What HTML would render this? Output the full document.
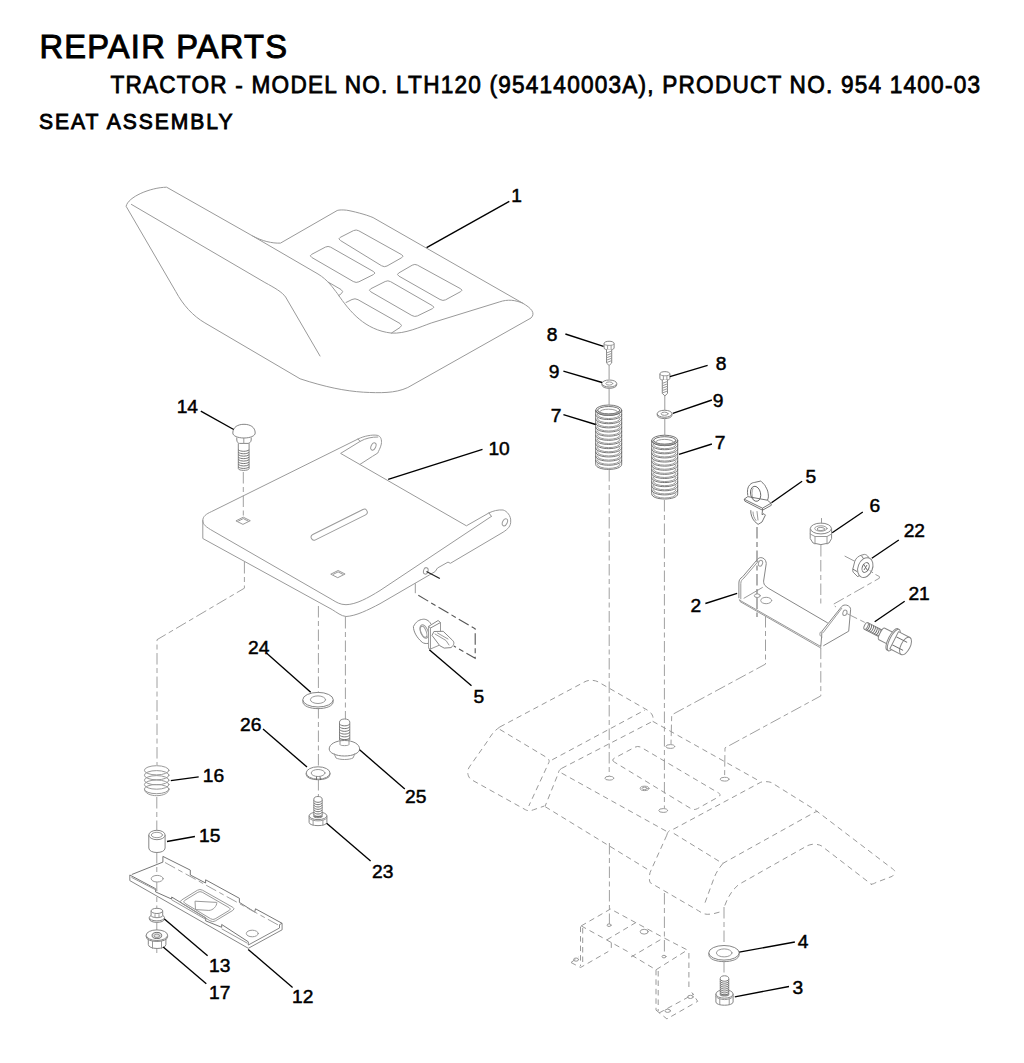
<!DOCTYPE html>
<html><head><meta charset="utf-8"><style>
html,body{margin:0;padding:0;background:#fff;}
body{width:1024px;height:1063px;overflow:hidden;position:relative;}
svg{position:absolute;left:0;top:0;}
.t{font-family:"Liberation Sans",sans-serif;font-weight:normal;fill:#000;}
.n{font-family:"Liberation Sans",sans-serif;font-weight:normal;fill:#000;stroke:#000;stroke-width:0.5;}
.l{fill:none;stroke:#9a9a9a;stroke-width:1;stroke-linejoin:round;stroke-linecap:round;}
.w{fill:#fff;stroke:#878787;stroke-width:1;stroke-linejoin:round;}
.m{fill:none;stroke:#666;stroke-width:0.9;stroke-linejoin:round;}
.d{fill:none;stroke:#9a9a9a;stroke-width:1;stroke-dasharray:5.5 4;}
.c{fill:none;stroke:#a0a0a0;stroke-width:1;stroke-dasharray:11.5 3.5 5 3.5;}
.k{fill:none;stroke:#000;stroke-width:1.35;}
</style></head><body>
<svg width="1024" height="1063" viewBox="0 0 1024 1063">
<text class="t" transform="scale(0.96 1)" x="41.15" y="58" font-size="34" stroke="#000" stroke-width="1.0" textLength="257.81" lengthAdjust="spacing">REPAIR PARTS</text>
<text class="t" transform="scale(0.92 1)" x="120.11" y="93.2" font-size="24.6" stroke="#000" stroke-width="0.8" textLength="945.11" lengthAdjust="spacing">TRACTOR - MODEL NO. LTH120 (954140003A), PRODUCT NO. 954 1400-03</text>
<text class="t" transform="scale(0.95 1)" x="41.05" y="128.6" font-size="22.2" stroke="#000" stroke-width="0.9" textLength="203.68" lengthAdjust="spacing">SEAT ASSEMBLY</text>
<path class="l" d="M126.2,205.9 C128,197 150,187.5 166.6,187.2 L252.5,235.9 C262,241 272,243.5 280.5,243.1 L337.2,210.5 C339,209.8 343,209.8 346.6,210.2 C352,211 366,214.5 373.1,217.6 L522.6,303.1 C531,308 536,313 531,318 L407.8,387.5 C395,393.5 380,393 363.3,392.2 C345,391 325,387 300.1,378.8 L204.9,322.9 C193,316 183,305 175.9,291.8 Z" />
<path class="l" d="M131.4,204.4 L264.9,282.5 C275,288 282,292 285.6,297 L320,356" />
<path class="l" d="M252.5,235.9 L318,274 C328,280 333,288 337.5,293.7 C350,312 365,330 391.4,333.1 C405,334 420,327 431.2,323 L499.2,302 C508,299 515,300 522.6,303.1" />
<path class="l" d="M340.1,240.3 Q337.5,238.7 340.2,237.4 L353.5,230.6 Q356.2,229.3 358.8,230.8 L401.7,254.7 Q404.3,256.2 401.7,257.7 L387.0,266.0 Q384.4,267.5 381.8,265.9 Z" />
<path class="l" d="M311.5,257.3 Q308.9,255.8 311.6,254.4 L325.4,247.1 Q328.1,245.7 330.7,247.2 L373.6,271.6 Q376.2,273.1 373.5,274.5 L358.9,281.8 Q356.2,283.2 353.6,281.7 Z" />
<path class="l" d="M398.7,276.0 Q396.1,274.5 398.7,273.0 L412.2,265.2 Q414.8,263.7 417.4,265.1 L460.7,288.8 Q463.3,290.2 460.7,291.6 L445.6,299.8 Q443.0,301.2 440.4,299.7 Z" />
<path class="l" d="M370.6,291.7 Q368.0,290.2 370.7,288.8 L385.2,281.5 Q387.9,280.1 390.5,281.6 L432.6,305.8 Q435.2,307.3 432.5,308.6 L417.5,315.9 Q414.8,317.2 412.2,315.7 Z" />
<path class="l" d="M346,302.5 L352,299.5 Q355,298 358,299.7 L400,323.5 Q403,325.5 400,327.5 L391.4,333.1" />
<path class="l" d="M328,282 L341,289.5 Q344,291.5 341.5,293.5 L338.7,295.6" />
<line class="k" x1="426.6" y1="247.6" x2="509.3" y2="201.4"/>
<text class="n" x="511.2" y="202.4" font-size="19.2">1</text>
<path class="l" d="M491.4,516.4 L380,590.5 C368,598 356,604.5 346,604.7 C340,604.7 336,602 332.2,599.7 L213,531 C206,527 202.8,524.5 202.8,520.5 C202.8,516.5 206,514 211.7,511.5 L358,439 C364,436 372,434.5 377.2,435.3 C381,436 382,440 381.3,444.1 C380.5,448 378.5,451 377.8,453 L372.4,456.4 L360.1,464.3" />
<path class="l" d="M202.8,520.5 L202.8,538.5 L332.2,609.6 C337,612.5 341,616 346,616.5 C356,616 368,610 380,603.7 L429.3,575 L435.2,571.5 L437.5,568 L448,562.1 L450.4,563.3 L503.1,532.2 C508,529 511,526 510.7,521 C511,516 507,511 503.1,510 C498,509.5 493,511 489,512.9 L466.4,525.8 L340.6,453.4 L360.1,441.4 C366,438 372,437 377.8,437" />
<line class="l" x1="358" y1="439" x2="360.1" y2="441.4"/>
<line class="l" x1="489" y1="512.9" x2="491.4" y2="516.4"/>
<rect class="l" x="-31" y="-3" width="62" height="6" rx="3" transform="translate(339.2,524.7) rotate(-26.5)"/>
<line class="k" x1="388.2" y1="479.4" x2="482.5" y2="449.4"/>
<text class="n" x="488.4" y="455.1" font-size="19.2">10</text>
<path class="l" d="M236.3,520.7 L243.3,517.2 L250.3,520.7 L243.3,524.2 Z M238.5,521 L243.3,518.6 L248,521" />
<path class="l" d="M331.1,574 L338.1,570.5 L345.1,574 L338.1,577.5 Z M333.3,574.3 L338.1,571.9 L342.8,574.3" />
<ellipse class="l" cx="373.4" cy="446.5" rx="2.3" ry="3.8" transform="rotate(25 373.4 446.5)"/>
<ellipse class="l" cx="504.9" cy="522.3" rx="2.3" ry="3.8" transform="rotate(25 504.9 522.3)"/>
<ellipse class="l" cx="425.8" cy="570.9" rx="2.3" ry="3.3" transform="rotate(15 425.8 570.9)"/>
<path class="w" d="M238.3,443.4 L238.3,468.5 C238.3,471 249.1,471 249.1,468.5 L249.1,443.4" />
<path class="m" d="M238.3,449.8 C240.5,451.8 246.9,451.8 249.1,449.8" />
<path class="m" d="M238.3,452.25 C240.5,454.25 246.9,454.25 249.1,452.25" />
<path class="m" d="M238.3,454.7 C240.5,456.7 246.9,456.7 249.1,454.7" />
<path class="m" d="M238.3,457.15000000000003 C240.5,459.15000000000003 246.9,459.15000000000003 249.1,457.15000000000003" />
<path class="m" d="M238.3,459.6 C240.5,461.6 246.9,461.6 249.1,459.6" />
<path class="m" d="M238.3,462.05 C240.5,464.05 246.9,464.05 249.1,462.05" />
<path class="m" d="M238.3,464.5 C240.5,466.5 246.9,466.5 249.1,464.5" />
<path class="m" d="M238.3,466.95 C240.5,468.95 246.9,468.95 249.1,466.95" />
<path class="w" d="M236.8,437.5 L236.8,440 C237,442 238,443.4 239.5,443.4 L248,443.4 C249.5,443.4 251,442 251.2,440 L251.2,437.5" />
<path class="l" d="M243.8,438 L243.8,443.4" />
<path class="w" d="M232.8,433 C232.8,427 238,424.3 244,424.3 C250,424.3 255.2,427 255.2,433 C255.2,436 250,438 244,438 C238,438 232.8,436 232.8,433 Z" />
<line class="k" x1="200.8" y1="411.1" x2="233.7" y2="429.5"/>
<text class="n" x="176.7" y="412.5" font-size="19.2">14</text>
<path class="c" d="M243.3,472 L243.3,517" />
<path class="c" d="M244.4,562 L244.4,588.2 L157,639.7 L157,765" />
<path class="c" d="M156.8,797 L156.8,830" />
<path class="c" d="M156.8,852 L156.8,876" />
<path class="c" d="M156.8,882 L156.8,909" />
<path class="c" d="M156.8,922 L156.8,953" />
<path class="c" d="M318.4,606 L318.4,692" />
<path class="c" d="M318.4,707 L318.4,766" />
<path class="c" d="M318.4,779 L318.4,796" />
<path class="c" d="M345.4,617 L345.4,719" />
<path d="M426.5,571.5 L439.8,578.5" style="fill:none;stroke:#222;stroke-width:1.3;"/>
<line class="l" x1="415.3" y1="583.7" x2="415.3" y2="592.8"/>
<path d="M418.3,595.3 L475.2,628.9 L475.2,658.2 L453.8,646" style="fill:none;stroke:#555;stroke-width:1.1;stroke-dasharray:11.5 3.5 5 3.5"/>
<path class="w" d="M431,624.2 C429,620 425,618.8 422.7,619.3 C419,619.8 416,621.5 413.4,626.6 C413.5,631 416,637 422.2,642.3 C424,643.5 426,643.8 428.6,643.3" />
<ellipse class="l" cx="424.2" cy="631.5" rx="3.7" ry="7" transform="rotate(-22 424.2 631.5)"/>
<ellipse class="l" cx="423.6" cy="631.8" rx="2.6" ry="5.8" transform="rotate(-22 423.6 631.8)"/>
<path class="w" d="M428.6,626.4 L438.1,620.5 L440.5,622.5 L430.5,628 Z" />
<path class="l" d="M428.6,626.4 L428.6,648.4 L430.5,649 L430.5,628 M440.5,622.5 L440.5,632.5 M430.5,649 L439.3,645.2" />
<path class="w" d="M433.9,631.5 L443.2,631.3 L452.5,640.3 C454.5,642 454.5,645 451,647.6 L444.2,648.1 L439.8,645.7 L432,635.4 Z" />
<path class="l" d="M435,634 L446,640.5 L449,645 M437.5,633 L448,639" />
<line class="k" x1="429.3" y1="649.7" x2="471.5" y2="685.7"/>
<text class="n" x="473.5" y="703.2" font-size="19.2">5</text>
<ellipse class="l" cx="156.7" cy="770.3" rx="12.3" ry="4.6"/>
<ellipse class="l" cx="156.7" cy="775.2" rx="12.3" ry="4.6"/>
<ellipse class="l" cx="156.7" cy="780.2" rx="12.3" ry="4.6"/>
<ellipse class="l" cx="156.7" cy="784.6" rx="12.3" ry="4.6"/>
<ellipse class="l" cx="156.7" cy="789.1" rx="12.3" ry="4.6"/>
<path class="l" d="M144.4,789.1 C144.4,798 169,798 169,789.1" />
<line class="k" x1="170.8" y1="780.6" x2="198.7" y2="776.8"/>
<text class="n" x="202.8" y="781.6" font-size="19.2">16</text>
<path class="w" d="M148.8,835 L148.8,848 C148.8,854 165.1,854 165.1,848 L165.1,835" />
<ellipse class="w" cx="156.95" cy="835" rx="8.15" ry="4.7"/>
<ellipse class="l" cx="156.95" cy="835" rx="5.6" ry="2.7"/>
<line class="k" x1="167" y1="841.5" x2="194.9" y2="836.5"/>
<text class="n" x="199.0" y="841.6" font-size="19.2">15</text>
<path class="w" d="M129.8,875 L129.8,880.6 L248.3,948.3 L282.1,929.8 L282.1,923.3 L279.5,924.6 L279.5,928 L248.3,945 L248.3,941.8" />
<path class="m" d="M129.8,875 L155.6,888.7 L155.6,891.9 L171.7,899.1 L171.7,897 L205.6,917.7 L205.6,920.8 L221.7,927.3 L221.7,924.5 L248.3,941.8" />
<path class="m" d="M131.8,874.5 L162.9,862.1 L162.9,856.4 L190.3,870.1 L190.3,875 L205.6,883 L205.6,879.8 L239.4,898.3 L239.4,902.4 L254.7,912 L255.5,908.8 L282.1,923.3" />
<path class="c" d="M165,862.5 L280,926" />
<path class="l" d="M131.8,877.5 L157,890.5 M172,900 L206,919.5 M222,929 L247,943" />
<ellipse class="l" cx="157.2" cy="878.7" rx="6" ry="3.3"/>
<ellipse class="l" cx="252.3" cy="933.5" rx="6" ry="3.3"/>
<path class="l" d="M181.6,903.2 Q179.0,901.6 181.6,900.0 L197.3,890.3 Q199.9,888.7 202.5,890.2 L232.8,907.3 Q235.4,908.8 232.8,910.4 L215.4,920.9 Q212.8,922.5 210.2,920.9 Z" />
<path class="l" d="M184.6,903.1 Q182.5,901.8 184.6,900.5 L197.9,892.3 Q200.0,891.0 202.2,892.2 L229.3,907.8 Q231.5,909.0 229.4,910.3 L215.1,918.9 Q213.0,920.2 210.9,918.9 Z" />
<path class="l" d="M195.4,901.2 L216.8,902.4 C217,906 213,910.5 208.8,910.4 L195.9,909.6 Z" />
<line class="k" x1="248.2" y1="949.4" x2="292.6" y2="987.5"/>
<text class="n" x="292.0" y="1003.0" font-size="19.2">12</text>
<path class="w" d="M149.3,917.6 L149.3,918.8 C149.3,923.6 164.5,923.6 164.5,918.8 L164.5,917.6" />
<ellipse class="w" cx="156.9" cy="917.6" rx="7.6" ry="3.3"/>
<path class="w" d="M151.1,910.9 L151.1,915.5 C151.1,918.3 162.7,918.3 162.7,915.5 L162.7,910.9" />
<ellipse class="w" cx="156.9" cy="910.9" rx="5.8" ry="2.6"/>
<path class="l" d="M155,914.6 L155,917.6 L159,917.6 L159,914.6" />
<line class="k" x1="164.4" y1="919" x2="207.6" y2="955.8"/>
<text class="n" x="209.0" y="972.0" font-size="19.2">13</text>
<path class="w" d="M148.3,936 L148.3,944.5 C148.3,949.8 165.9,949.8 165.9,944.5 L165.9,936 Z" />
<path class="l" d="M152.5,941.5 L152.5,948.3 M161.5,941.5 L161.5,948.3" />
<path class="w" d="M146.2,935.2 L146.2,936.8 C146.2,943 167.6,943 167.6,936.8 L167.6,935.2" />
<ellipse class="w" cx="156.9" cy="935.2" rx="10.7" ry="5.3"/>
<ellipse class="m" cx="156.9" cy="935.5" rx="4.8" ry="3.1" style="fill:#e4e4e4"/>
<ellipse class="l" cx="156.9" cy="935.8" rx="2.8" ry="1.7"/>
<line class="k" x1="163.2" y1="947" x2="206.3" y2="983.7"/>
<text class="n" x="209.0" y="998.7" font-size="19.2">17</text>
<path class="w" d="M302.8,699.7 L302.8,701.5 C302.8,711 333.2,711 333.2,701.5 L333.2,699.7" />
<ellipse class="w" cx="318" cy="699.7" rx="15.2" ry="7.3"/>
<ellipse class="l" cx="318" cy="699.7" rx="7.6" ry="3.8"/>
<line class="k" x1="310.7" y1="692.3" x2="266.7" y2="653.2"/>
<text class="n" x="248.0" y="654.0" font-size="19.2">24</text>
<path class="w" d="M339.5,740 L339.5,722.075 C339.5,717.955 349.8,717.955 349.8,722.075 L349.8,740 Z"/>
<path class="m" d="M339.5,724.0326923076924 C341.56,726.4326923076924 347.74,726.4326923076924 349.8,724.0326923076924" />
<path class="m" d="M339.5,726.7903846153847 C341.56,729.1903846153847 347.74,729.1903846153847 349.8,726.7903846153847" />
<path class="m" d="M339.5,729.548076923077 C341.56,731.948076923077 347.74,731.948076923077 349.8,729.548076923077" />
<path class="m" d="M339.5,732.3057692307693 C341.56,734.7057692307693 347.74,734.7057692307693 349.8,732.3057692307693" />
<path class="m" d="M339.5,735.0634615384616 C341.56,737.4634615384616 347.74,737.4634615384616 349.8,735.0634615384616" />
<path class="m" d="M339.5,737.821153846154 C341.56,740.2211538461539 347.74,740.2211538461539 349.8,737.821153846154" />
<path class="w" d="M329.2,749 C329.2,744 336,740.5 344.5,740.5 C353,740.5 359.6,744 359.6,749 C359.6,753 353,756 344.5,756 C336,756 329.2,753 329.2,749 Z" />
<path class="l" d="M340,740.6 L340,744.5 C340,746 349,746 349,744.5 L349,740.6" />
<path class="l" d="M334,753.5 L336,758 C340,760 349,760 353,758 L355,753.5" />
<line class="k" x1="359.6" y1="749.8" x2="404.8" y2="789"/>
<text class="n" x="405.0" y="803.4" font-size="19.2">25</text>
<path class="w" d="M306.2,773 L306.2,774.5 C306.2,781.5 330,781.5 330,774.5 L330,773" />
<ellipse class="w" cx="318.1" cy="773" rx="11.9" ry="6.2"/>
<ellipse class="l" cx="318.1" cy="773" rx="6.9" ry="3.5"/>
<path class="m" d="M316.5,776.4 L316.5,780 M320,776.4 L320.5,780" />
<line class="k" x1="307" y1="767" x2="263" y2="729"/>
<text class="n" x="240.0" y="731.2" font-size="19.2">26</text>
<path class="w" d="M309.1,815.8 L309.1,822.4 C309.1,826.6999999999999 326.9,826.6999999999999 326.9,822.4 L326.9,815.8 Z" />
<path class="l" d="M313.105,820.0999999999999 L313.105,825.1 M322.895,820.0999999999999 L322.895,825.1 M309.1,818.0799999999999 C311.77,821.88 324.23,821.88 326.9,818.0799999999999" />
<ellipse class="w" cx="318" cy="815.8" rx="8.9" ry="3.8"/>
<path class="w" d="M313.85,816.56 L313.85,798.9749999999999 C313.85,795.655 322.15,795.655 322.15,798.9749999999999 L322.15,816.56 Z"/>
<path class="m" d="M313.85,800.5196666666666 C315.51,802.9196666666666 320.49,802.9196666666666 322.15,800.5196666666666" />
<path class="m" d="M313.85,802.8643333333333 C315.51,805.2643333333333 320.49,805.2643333333333 322.15,802.8643333333333" />
<path class="m" d="M313.85,805.209 C315.51,807.6089999999999 320.49,807.6089999999999 322.15,805.209" />
<path class="m" d="M313.85,807.5536666666666 C315.51,809.9536666666665 320.49,809.9536666666665 322.15,807.5536666666666" />
<path class="m" d="M313.85,809.8983333333333 C315.51,812.2983333333333 320.49,812.2983333333333 322.15,809.8983333333333" />
<path class="m" d="M313.85,812.2429999999999 C315.51,814.6429999999999 320.49,814.6429999999999 322.15,812.2429999999999" />
<path class="m" d="M313.85,814.5876666666666 C315.51,816.9876666666665 320.49,816.9876666666665 322.15,814.5876666666666" />
<path class="m" d="M313.85,816.56 C313.85,818.06 322.15,818.06 322.15,816.56" />
<line class="k" x1="326.6" y1="823.2" x2="370.6" y2="861"/>
<text class="n" x="372.0" y="878.0" font-size="19.2">23</text>
<path class="w" d="M604.1,343.5 L604.1,348 C604.1,350.5 614.1,350.5 614.1,348 L614.1,343.5 C614.1,340.5 604.1,340.5 604.1,343.5 Z" />
<path class="l" d="M604.1,344 C604.1,346 614.1,346 614.1,344 M607.6,345.5 L607.6,350 M611.1,345.5 L611.1,350" />
<path class="w" d="M606.5,349.5 L606.5,363 L609.1,365.5 L611.7,363 L611.7,349.5" />
<line class="l" x1="606.5" y1="353.0" x2="611.7" y2="351.0"/>
<line class="l" x1="606.5" y1="355.4" x2="611.7" y2="353.4"/>
<line class="l" x1="606.5" y1="357.8" x2="611.7" y2="355.8"/>
<line class="l" x1="606.5" y1="360.2" x2="611.7" y2="358.2"/>
<line class="l" x1="606.5" y1="362.6" x2="611.7" y2="360.6"/>
<path class="w" d="M601.9,383.5 L601.9,384.8 C601.9,389.5 616.6999999999999,389.5 616.6999999999999,384.8 L616.6999999999999,383.5" />
<ellipse class="w" cx="609.3" cy="383.5" rx="7.4" ry="3.5"/>
<ellipse class="l" cx="609.3" cy="383.5" rx="3.5" ry="1.6"/>
<rect x="595.7" y="410.2" width="26" height="53.99999999999998" style="fill:#fff"/>
<path class="m" d="M595.7,410.2 C595.7,417.116 621.7,417.116 621.7,410.2" />
<path class="l" d="M597.3000000000001,410.2 C597.3000000000001,415.92 620.1,415.92 620.1,410.2" />
<path class="m" d="M595.7,414.3538461538461 C595.7,421.2698461538461 621.7,421.2698461538461 621.7,414.3538461538461" />
<path class="l" d="M597.3000000000001,414.3538461538461 C597.3000000000001,420.07384615384615 620.1,420.07384615384615 620.1,414.3538461538461" />
<path class="m" d="M595.7,418.5076923076923 C595.7,425.4236923076923 621.7,425.4236923076923 621.7,418.5076923076923" />
<path class="l" d="M597.3000000000001,418.5076923076923 C597.3000000000001,424.22769230769234 620.1,424.22769230769234 620.1,418.5076923076923" />
<path class="m" d="M595.7,422.66153846153844 C595.7,429.57753846153844 621.7,429.57753846153844 621.7,422.66153846153844" />
<path class="l" d="M597.3000000000001,422.66153846153844 C597.3000000000001,428.38153846153847 620.1,428.38153846153847 620.1,422.66153846153844" />
<path class="m" d="M595.7,426.8153846153846 C595.7,433.73138461538457 621.7,433.73138461538457 621.7,426.8153846153846" />
<path class="l" d="M597.3000000000001,426.8153846153846 C597.3000000000001,432.5353846153846 620.1,432.5353846153846 620.1,426.8153846153846" />
<path class="m" d="M595.7,430.96923076923076 C595.7,437.88523076923076 621.7,437.88523076923076 621.7,430.96923076923076" />
<path class="l" d="M597.3000000000001,430.96923076923076 C597.3000000000001,436.6892307692308 620.1,436.6892307692308 620.1,430.96923076923076" />
<path class="m" d="M595.7,435.1230769230769 C595.7,442.0390769230769 621.7,442.0390769230769 621.7,435.1230769230769" />
<path class="l" d="M597.3000000000001,435.1230769230769 C597.3000000000001,440.8430769230769 620.1,440.8430769230769 620.1,435.1230769230769" />
<path class="m" d="M595.7,439.276923076923 C595.7,446.192923076923 621.7,446.192923076923 621.7,439.276923076923" />
<path class="l" d="M597.3000000000001,439.276923076923 C597.3000000000001,444.99692307692305 620.1,444.99692307692305 620.1,439.276923076923" />
<path class="m" d="M595.7,443.4307692307692 C595.7,450.3467692307692 621.7,450.3467692307692 621.7,443.4307692307692" />
<path class="l" d="M597.3000000000001,443.4307692307692 C597.3000000000001,449.15076923076924 620.1,449.15076923076924 620.1,443.4307692307692" />
<path class="m" d="M595.7,447.58461538461535 C595.7,454.50061538461534 621.7,454.50061538461534 621.7,447.58461538461535" />
<path class="l" d="M597.3000000000001,447.58461538461535 C597.3000000000001,453.3046153846154 620.1,453.3046153846154 620.1,447.58461538461535" />
<path class="m" d="M595.7,451.73846153846154 C595.7,458.65446153846153 621.7,458.65446153846153 621.7,451.73846153846154" />
<path class="l" d="M597.3000000000001,451.73846153846154 C597.3000000000001,457.45846153846156 620.1,457.45846153846156 620.1,451.73846153846154" />
<path class="m" d="M595.7,455.89230769230767 C595.7,462.80830769230766 621.7,462.80830769230766 621.7,455.89230769230767" />
<path class="l" d="M597.3000000000001,455.89230769230767 C597.3000000000001,461.6123076923077 620.1,461.6123076923077 620.1,455.89230769230767" />
<path class="m" d="M595.7,460.0461538461538 C595.7,466.9621538461538 621.7,466.9621538461538 621.7,460.0461538461538" />
<path class="l" d="M597.3000000000001,460.0461538461538 C597.3000000000001,465.7661538461538 620.1,465.7661538461538 620.1,460.0461538461538" />
<path class="m" d="M595.7,464.2 C595.7,471.116 621.7,471.116 621.7,464.2" />
<path class="l" d="M597.3000000000001,464.2 C597.3000000000001,469.92 620.1,469.92 620.1,464.2" />
<ellipse class="m" cx="608.7" cy="410.2" rx="13" ry="5.2"/>
<ellipse class="m" cx="608.7" cy="410.2" rx="11" ry="3.7"/>
<ellipse class="l" cx="608.7" cy="412.0" rx="9" ry="2.8000000000000003"/>
<line class="m" x1="595.7" y1="410.2" x2="595.7" y2="464.2"/>
<line class="m" x1="621.7" y1="410.2" x2="621.7" y2="464.2"/>
<line class="k" x1="603.5" y1="346.4" x2="565.4" y2="334"/>
<text class="n" x="546.8" y="340.5" font-size="19.2">8</text>
<line class="k" x1="602.1" y1="382.5" x2="563.4" y2="371.2"/>
<text class="n" x="548.8" y="378.0" font-size="19.2">9</text>
<line class="k" x1="595.7" y1="424.5" x2="563.4" y2="414.7"/>
<text class="n" x="550.7" y="421.6" font-size="19.2">7</text>
<path class="l" d="M609.1,366 L609.1,379" />
<path class="l" d="M609.1,388 L609.1,405" />
<path class="c" d="M609.2,470 L609.2,776" />
<path class="w" d="M659.9,373.9 L659.9,378.4 C659.9,380.9 669.9,380.9 669.9,378.4 L669.9,373.9 C669.9,370.9 659.9,370.9 659.9,373.9 Z" />
<path class="l" d="M659.9,374.4 C659.9,376.4 669.9,376.4 669.9,374.4 M663.4,375.9 L663.4,380.4 M666.9,375.9 L666.9,380.4" />
<path class="w" d="M662.3,379.9 L662.3,393.4 L664.9,395.9 L667.5,393.4 L667.5,379.9" />
<line class="l" x1="662.3" y1="383.4" x2="667.5" y2="381.4"/>
<line class="l" x1="662.3" y1="385.79999999999995" x2="667.5" y2="383.79999999999995"/>
<line class="l" x1="662.3" y1="388.2" x2="667.5" y2="386.2"/>
<line class="l" x1="662.3" y1="390.59999999999997" x2="667.5" y2="388.59999999999997"/>
<line class="l" x1="662.3" y1="393.0" x2="667.5" y2="391.0"/>
<path class="w" d="M657.2,413.75 L657.2,415.05 C657.2,419.75 672.0,419.75 672.0,415.05 L672.0,413.75" />
<ellipse class="w" cx="664.6" cy="413.75" rx="7.4" ry="3.5"/>
<ellipse class="l" cx="664.6" cy="413.75" rx="3.5" ry="1.6"/>
<rect x="651.7" y="440.4" width="26" height="53.40000000000001" style="fill:#fff"/>
<path class="m" d="M651.7,440.4 C651.7,447.316 677.7,447.316 677.7,440.4" />
<path class="l" d="M653.3000000000001,440.4 C653.3000000000001,446.12 676.1,446.12 676.1,440.4" />
<path class="m" d="M651.7,444.5076923076923 C651.7,451.4236923076923 677.7,451.4236923076923 677.7,444.5076923076923" />
<path class="l" d="M653.3000000000001,444.5076923076923 C653.3000000000001,450.22769230769234 676.1,450.22769230769234 676.1,444.5076923076923" />
<path class="m" d="M651.7,448.6153846153846 C651.7,455.5313846153846 677.7,455.5313846153846 677.7,448.6153846153846" />
<path class="l" d="M653.3000000000001,448.6153846153846 C653.3000000000001,454.3353846153846 676.1,454.3353846153846 676.1,448.6153846153846" />
<path class="m" d="M651.7,452.7230769230769 C651.7,459.6390769230769 677.7,459.6390769230769 677.7,452.7230769230769" />
<path class="l" d="M653.3000000000001,452.7230769230769 C653.3000000000001,458.44307692307694 676.1,458.44307692307694 676.1,452.7230769230769" />
<path class="m" d="M651.7,456.8307692307692 C651.7,463.7467692307692 677.7,463.7467692307692 677.7,456.8307692307692" />
<path class="l" d="M653.3000000000001,456.8307692307692 C653.3000000000001,462.5507692307692 676.1,462.5507692307692 676.1,456.8307692307692" />
<path class="m" d="M651.7,460.9384615384615 C651.7,467.8544615384615 677.7,467.8544615384615 677.7,460.9384615384615" />
<path class="l" d="M653.3000000000001,460.9384615384615 C653.3000000000001,466.65846153846155 676.1,466.65846153846155 676.1,460.9384615384615" />
<path class="m" d="M651.7,465.04615384615386 C651.7,471.96215384615385 677.7,471.96215384615385 677.7,465.04615384615386" />
<path class="l" d="M653.3000000000001,465.04615384615386 C653.3000000000001,470.7661538461539 676.1,470.7661538461539 676.1,465.04615384615386" />
<path class="m" d="M651.7,469.15384615384613 C651.7,476.06984615384613 677.7,476.06984615384613 677.7,469.15384615384613" />
<path class="l" d="M653.3000000000001,469.15384615384613 C653.3000000000001,474.87384615384616 676.1,474.87384615384616 676.1,469.15384615384613" />
<path class="m" d="M651.7,473.26153846153846 C651.7,480.17753846153846 677.7,480.17753846153846 677.7,473.26153846153846" />
<path class="l" d="M653.3000000000001,473.26153846153846 C653.3000000000001,478.9815384615385 676.1,478.9815384615385 676.1,473.26153846153846" />
<path class="m" d="M651.7,477.36923076923074 C651.7,484.28523076923074 677.7,484.28523076923074 677.7,477.36923076923074" />
<path class="l" d="M653.3000000000001,477.36923076923074 C653.3000000000001,483.08923076923077 676.1,483.08923076923077 676.1,477.36923076923074" />
<path class="m" d="M651.7,481.4769230769231 C651.7,488.39292307692307 677.7,488.39292307692307 677.7,481.4769230769231" />
<path class="l" d="M653.3000000000001,481.4769230769231 C653.3000000000001,487.1969230769231 676.1,487.1969230769231 676.1,481.4769230769231" />
<path class="m" d="M651.7,485.5846153846154 C651.7,492.5006153846154 677.7,492.5006153846154 677.7,485.5846153846154" />
<path class="l" d="M653.3000000000001,485.5846153846154 C653.3000000000001,491.30461538461543 676.1,491.30461538461543 676.1,485.5846153846154" />
<path class="m" d="M651.7,489.6923076923077 C651.7,496.6083076923077 677.7,496.6083076923077 677.7,489.6923076923077" />
<path class="l" d="M653.3000000000001,489.6923076923077 C653.3000000000001,495.4123076923077 676.1,495.4123076923077 676.1,489.6923076923077" />
<path class="m" d="M651.7,493.8 C651.7,500.716 677.7,500.716 677.7,493.8" />
<path class="l" d="M653.3000000000001,493.8 C653.3000000000001,499.52000000000004 676.1,499.52000000000004 676.1,493.8" />
<ellipse class="m" cx="664.7" cy="440.4" rx="13" ry="5.2"/>
<ellipse class="m" cx="664.7" cy="440.4" rx="11" ry="3.7"/>
<ellipse class="l" cx="664.7" cy="442.2" rx="9" ry="2.8000000000000003"/>
<line class="m" x1="651.7" y1="440.4" x2="651.7" y2="493.8"/>
<line class="m" x1="677.7" y1="440.4" x2="677.7" y2="493.8"/>
<line class="k" x1="669.9" y1="376.6" x2="707.6" y2="365.3"/>
<text class="n" x="715.8" y="369.8" font-size="19.2">8</text>
<line class="k" x1="672.8" y1="413.4" x2="711.9" y2="400"/>
<text class="n" x="712.8" y="407.0" font-size="19.2">9</text>
<line class="k" x1="679" y1="454.4" x2="711.9" y2="444"/>
<text class="n" x="714.8" y="449.0" font-size="19.2">7</text>
<path class="l" d="M664.8,396 L664.8,410" />
<path class="l" d="M664.8,418 L664.8,435" />
<path class="c" d="M664.4,500 L664.4,808" />
<path class="m" d="M747.8,495.6 C747,491 747.5,487 749.8,484.8 C751.5,483 753,482.6 754.7,482.4 L760.5,481.1 C761,481 761.5,481.5 762,482.4 C764,484 765,485 765.4,486.3 C767,489 767.8,491 767.9,492.1 C768.4,494.5 768.4,496 768.4,497 C768.2,498.5 767.8,499.5 767.4,500.2" />
<ellipse class="m" cx="755.6" cy="493.8" rx="5" ry="7.6" transform="rotate(-12 755.6 493.8)"/>
<path class="l" d="M753,488.5 C751.5,491 751.5,496 753.5,499.5" />
<path class="m" d="M744.2,499.2 L747.8,496.6 L767.4,500.2 L771,503.2 L762.5,508.2 Z" />
<path class="m" d="M744.2,499.2 L744.9,501.2 L762.5,510.2 L771.3,505.3 L771,503.2 M762.5,508.2 L762.5,510.2" />
<path class="m" d="M750.8,510.2 C750.5,514 752,518.5 754.7,521.5 L758.1,524.4 L762,522 L765.4,515.1 L764,513.7 L762,514.7 L762.5,510.2" />
<path class="l" d="M753,512 C753,515 754,518 756,520.5 M757,511.5 L758,520" />
<line class="k" x1="771.5" y1="502.8" x2="802.1" y2="481.3"/>
<text class="n" x="805.4" y="483.4" font-size="19.2">5</text>
<path class="w" d="M810.2,528.5 L810.2,538.5 L813,543 L820.9,544.6 L829,543 L831.6,538.5 L831.6,528.5" />
<ellipse class="w" cx="820.9" cy="528.5" rx="10.5" ry="5.4"/>
<ellipse class="l" cx="820.9" cy="528.5" rx="6.2" ry="2.7"/>
<ellipse class="l" cx="820.9" cy="529" rx="3.8" ry="1.6"/>
<path class="l" d="M810.2,534 L815,536.5 L827,536.5 L831.6,534 M815,536.5 L815,544 M827,536.5 L827,544" />
<path class="l" d="M821.5,518.5 L821.5,523" />
<line class="k" x1="832.2" y1="532.8" x2="862.8" y2="512"/>
<text class="n" x="869.5" y="511.8" font-size="19.2">6</text>
<path class="c" d="M820.9,545 L820.9,558" />
<path class="c" d="M820.8,647.6 L820.8,695.9 L725,747.9 L724.6,777" />
<path class="c" d="M820.8,560 L820.8,605" />
<line class="l" x1="845" y1="556.2" x2="854.8" y2="561.3"/>
<path class="w" d="M854.8,561.3 C856,558 858.5,556 861.4,555.2 L864.5,554.4 C866,554.5 867.5,555.5 868.4,557 L866,567 L857.9,576.9 L853.2,572.2 C852.8,571.5 852.6,570.5 852.8,569.1 Z" />
<path class="m" d="M861.4,555.6 L864,559.3 M852.8,569.1 L857.5,571.8" />
<ellipse class="w" cx="865.3" cy="567.6" rx="7.2" ry="10.3" transform="rotate(22 865.3 567.6)"/>
<ellipse class="m" cx="865.6" cy="567.5" rx="3.3" ry="5.1" transform="rotate(22 865.6 567.5)"/>
<path class="m" d="M863.5,564 L867.5,570.5 M864,570 L867,565" />
<line class="l" x1="870" y1="570.7" x2="872.7" y2="572.6"/>
<path class="c" d="M875.5,574.5 L879.4,576.5 L879.4,578.2 L832.8,604.6 L836,607" />
<line class="k" x1="871.8" y1="558.2" x2="898.8" y2="540"/>
<text class="n" x="903.7" y="537.2" font-size="19.2">22</text>
<path class="w" d="M738.9,598.2 L738.9,583 C738.9,580 740,578.5 742.7,576.7 L757.3,559.5 C758.5,558 760,557.5 761.1,557.6 C763.5,557.8 765.5,559.5 766,562 C766.4,564 766.2,564 766.2,564 L763.6,581.1 C763.6,583.5 764.5,585 765,585.5 L768.1,588.1 L827.8,623" />
<path class="l" d="M740.8,598.9 L740.8,583.6 C740.8,581 742,579.5 744,578 L758.5,561" />
<path class="l" d="M744,598.2 L762.4,587.5" />
<path class="l" d="M739.5,600.1 L820.8,646.5 L820.8,645.2 M740.8,602 L820.8,648" />
<path class="l" d="M739.5,600 C739.8,601 740,601.5 740.8,602" />
<path class="w" d="M820.8,646.5 L822,631.2 L841.7,606.5 C843,605 845,604.8 846.8,605.2 C849,605.8 850.8,607.5 850.6,609.7 L848.7,631.2 L823.3,645.8" />
<path class="l" d="M823.3,632.5 L841.7,608.4" />
<ellipse class="l" cx="760.5" cy="563.3" rx="2" ry="3" transform="rotate(20 760.5 563.3)"/>
<ellipse class="l" cx="757.3" cy="595.7" rx="3" ry="1.8"/>
<ellipse class="l" cx="766.2" cy="600.5" rx="5.5" ry="3.2"/>
<ellipse class="l" cx="844.9" cy="612.8" rx="2" ry="2.8" transform="rotate(20 844.9 612.8)"/>
<path class="l" d="M822,637 C819.5,636.5 819,633 821,631.5" />
<line class="k" x1="737.1" y1="593.3" x2="705.4" y2="603.5"/>
<text class="n" x="690.4" y="612.0" font-size="19.2">2</text>
<path d="M757,527 L757,617" style="fill:none;stroke:#888;stroke-width:1.3;stroke-dasharray:11.5 3.5 5 3.5"/>
<path class="c" d="M765.5,616 L765.5,664.1 L671.7,714.9 L671,744" />
<path class="c" d="M846.8,613.5 L866,623" />
<g transform="translate(866.1,626) rotate(26.9)">
<rect class="w" x="0" y="-3.7" width="16.5" height="7.4"/>
<path class="m" d="M2.1,-3.7 C3.7,-2 3.7,2 2.1,3.7" />
<path class="m" d="M4.2,-3.7 C5.800000000000001,-2 5.800000000000001,2 4.2,3.7" />
<path class="m" d="M6.300000000000001,-3.7 C7.9,-2 7.9,2 6.300000000000001,3.7" />
<path class="m" d="M8.4,-3.7 C10.0,-2 10.0,2 8.4,3.7" />
<path class="m" d="M10.5,-3.7 C12.1,-2 12.1,2 10.5,3.7" />
<path class="m" d="M12.600000000000001,-3.7 C14.200000000000001,-2 14.200000000000001,2 12.600000000000001,3.7" />
<path class="m" d="M14.700000000000001,-3.7 C16.3,-2 16.3,2 14.700000000000001,3.7" />
<ellipse class="w" cx="0" cy="0" rx="1.7" ry="3.7"/>
<path class="w" d="M17.7,-6.5 L30,-6.5 L30,6.5 L17.7,6.5 C15,6.5 15,-6.5 17.7,-6.5 Z"/>
<ellipse class="w" cx="29.5" cy="0" rx="4" ry="12"/>
<ellipse class="w" cx="31" cy="0" rx="4" ry="12"/>
<path class="w" d="M31.5,-9.6 L44.2,-9.6 L44.2,9.6 L31.5,9.6 Z"/>
<ellipse class="w" cx="44.2" cy="0" rx="4.6" ry="9.6"/>
<path class="m" d="M32,-4 L44,-4 M32,5 L44,5" />
</g>
<line class="k" x1="874.7" y1="621.8" x2="904.7" y2="601.2"/>
<text class="n" x="908.4" y="599.8" font-size="19.2">21</text>
<path class="w" d="M708.8,952.8 L708.8,954.5 C708.8,964 739.2,964 739.2,954.5 L739.2,952.8" />
<ellipse class="w" cx="724" cy="952.8" rx="15.2" ry="7.3"/>
<ellipse class="l" cx="724.2" cy="952.9" rx="7.8" ry="4"/>
<line class="k" x1="739.2" y1="952.2" x2="794.9" y2="942"/>
<text class="n" x="797.8" y="948.0" font-size="19.2">4</text>
<path class="w" d="M715.9,994 L715.9,1002.0 C715.9,1006.3 733.1,1006.3 733.1,1002.0 L733.1,994 Z" />
<path class="l" d="M719.77,998.7 L719.77,1004.7 M729.23,998.7 L729.23,1004.7 M715.9,996.52 C718.48,1000.72 730.52,1000.72 733.1,996.52" />
<ellipse class="w" cx="724.5" cy="994" rx="8.6" ry="4.2"/>
<path class="w" d="M720.25,994.84 L720.25,978.325 C720.25,974.9250000000001 728.75,974.9250000000001 728.75,978.325 L728.75,994.84 Z"/>
<path class="m" d="M720.25,979.4679411764707 C721.95,981.8679411764707 727.05,981.8679411764707 728.75,979.4679411764707" />
<path class="m" d="M720.25,981.4108823529413 C721.95,983.8108823529412 727.05,983.8108823529412 728.75,981.4108823529413" />
<path class="m" d="M720.25,983.3538235294119 C721.95,985.7538235294119 727.05,985.7538235294119 728.75,983.3538235294119" />
<path class="m" d="M720.25,985.2967647058824 C721.95,987.6967647058824 727.05,987.6967647058824 728.75,985.2967647058824" />
<path class="m" d="M720.25,987.2397058823531 C721.95,989.639705882353 727.05,989.639705882353 728.75,987.2397058823531" />
<path class="m" d="M720.25,989.1826470588236 C721.95,991.5826470588236 727.05,991.5826470588236 728.75,989.1826470588236" />
<path class="m" d="M720.25,991.1255882352942 C721.95,993.5255882352942 727.05,993.5255882352942 728.75,991.1255882352942" />
<path class="m" d="M720.25,993.0685294117648 C721.95,995.4685294117647 727.05,995.4685294117647 728.75,993.0685294117648" />
<path class="m" d="M720.25,994.84 C720.25,996.34 728.75,996.34 728.75,994.84" />
<line class="k" x1="734.8" y1="996.8" x2="789" y2="986.5"/>
<text class="n" x="792.4" y="994.0" font-size="19.2">3</text>
<path class="c" d="M724,907 L724,945" />
<path class="c" d="M724,961 L724,976" />
<path class="d" d="M499.8,727 L585,681.7 C589,679.5 596,679.8 600.6,683.3 L647.9,710.4 C652,713 654,717 652.7,721.3" />
<path class="d" d="M499.8,727 C494,731 491,735 488.1,740.3 L469.4,766.9 C467,770 467,776 470.9,779.4 L525.6,809.8 C527.5,811 530.5,811 533.4,809.8 L544.4,806" />
<path class="d" d="M499.8,729.4 L546.7,757.5 C549,759 549.5,761 549,762.2 L528.8,806" />
<path class="d" d="M552.2,759.8 L645,710" />
<path class="d" d="M561.6,768.4 L652.7,721.3" />
<path class="d" d="M561.6,768.4 C559,770 558.4,772 558.4,773.1 L545.2,806" />
<path class="d" d="M545.2,806.7 L650.2,871" />
<path class="d" d="M561.6,773.1 L667,831.6" />
<path class="d" d="M652.7,721.3 L759.3,781" />
<path class="d" d="M614.4,762.1 Q611.0,760.0 614.5,758.1 L634.5,747.4 Q638.0,745.5 641.4,747.5 L718.6,793.0 Q722.0,795.0 718.5,796.9 L697.5,808.6 Q694.0,810.5 690.6,808.4 Z" />
<ellipse class="l" cx="609.3" cy="778.2" rx="4.4" ry="1.9"/>
<ellipse class="l" cx="663.2" cy="810.5" rx="4.4" ry="1.9"/>
<ellipse class="l" cx="670.3" cy="746.5" rx="4.4" ry="1.9"/>
<ellipse class="l" cx="724.6" cy="779.2" rx="4.4" ry="1.9"/>
<ellipse class="l" cx="644.6" cy="788.4" rx="4.4" ry="2.2"/>
<ellipse class="l" cx="644.6" cy="788.4" rx="2.6" ry="1.2"/>
<path class="d" d="M666.8,835.2 C667.5,832 669,830 673.8,829 L760.3,782.5 C762,781.5 768,781.2 771.3,782.5 L815,809.8 L890,866.9 C893,869 895,870.5 894.7,871.6 C894.5,874 893,875.5 892.3,876.3 L876,882.5 C874,883.6 872.5,884.2 871.3,884" />
<path class="d" d="M673.8,833.4 L719.5,861.5 C721,862.5 722,863 723,863.3 L813.4,813 C815,812 816.5,811.4 818,811.4" />
<path class="d" d="M666.8,835.2 L651,870.3 C649,874 649,880 650.1,882.6 L698.4,910.7 C701,912.5 704,914.3 707.2,914.3 C712,914.3 718,913 723,910.7" />
<path class="d" d="M723,863.3 C719,868 716,873 714.3,877.3 L703.7,906.3" />
<path class="d" d="M724.8,905.5 C728,897 732,890 738.9,884.4 L807.2,845.8 C809,845 812,844 815,844.2 C818,844.5 820,845 821.3,845.8 L868,881.7 C869.5,883 870.5,884 872,884.8" />
<path class="d" d="M581.2,925.9 L610.5,909 L664.7,938.3" />
<path class="d" d="M581.2,925.9 L630.3,953" />
<path class="d" d="M664.7,938.3 L687.4,950 L656,969.8 L630.3,954.4" />
<path class="d" d="M606.9,939.8 L637.6,921.5" />
<path class="d" d="M631,957 L662.5,938.5" />
<path class="d" d="M580.5,926.6 L580.5,966.2 M582.7,928 L582.7,964" />
<path class="d" d="M571,962.5 L579,956.6 M571,962.5 L580.5,967.5 L608.3,951.5 M611.3,947.9 L611.3,941.3" />
<ellipse class="l" cx="576.1" cy="959.6" rx="2.5" ry="1.6"/>
<path class="d" d="M656,969.8 L656,1010.1 M658.2,971 L658.2,1011" />
<path class="d" d="M688.9,953 L688.9,991" />
<path class="d" d="M656,1010.1 L666.9,1018.9 L697.7,1001.3 L691.8,992.5 M659,1013 L694,994" />
<ellipse class="l" cx="690.4" cy="996.9" rx="2.8" ry="1.6"/>
<ellipse class="l" cx="667.7" cy="1010.8" rx="2.8" ry="1.6"/>
<ellipse class="l" cx="609.1" cy="925.2" rx="2" ry="1.3"/>
<ellipse class="l" cx="644.2" cy="931.7" rx="4" ry="2.4"/>
<ellipse class="l" cx="664" cy="956.6" rx="2" ry="1.3"/>
<path class="c" d="M609.4,843 L609.4,924" />
<path class="c" d="M664.4,893 L664.4,955" />
</svg>
</body></html>
